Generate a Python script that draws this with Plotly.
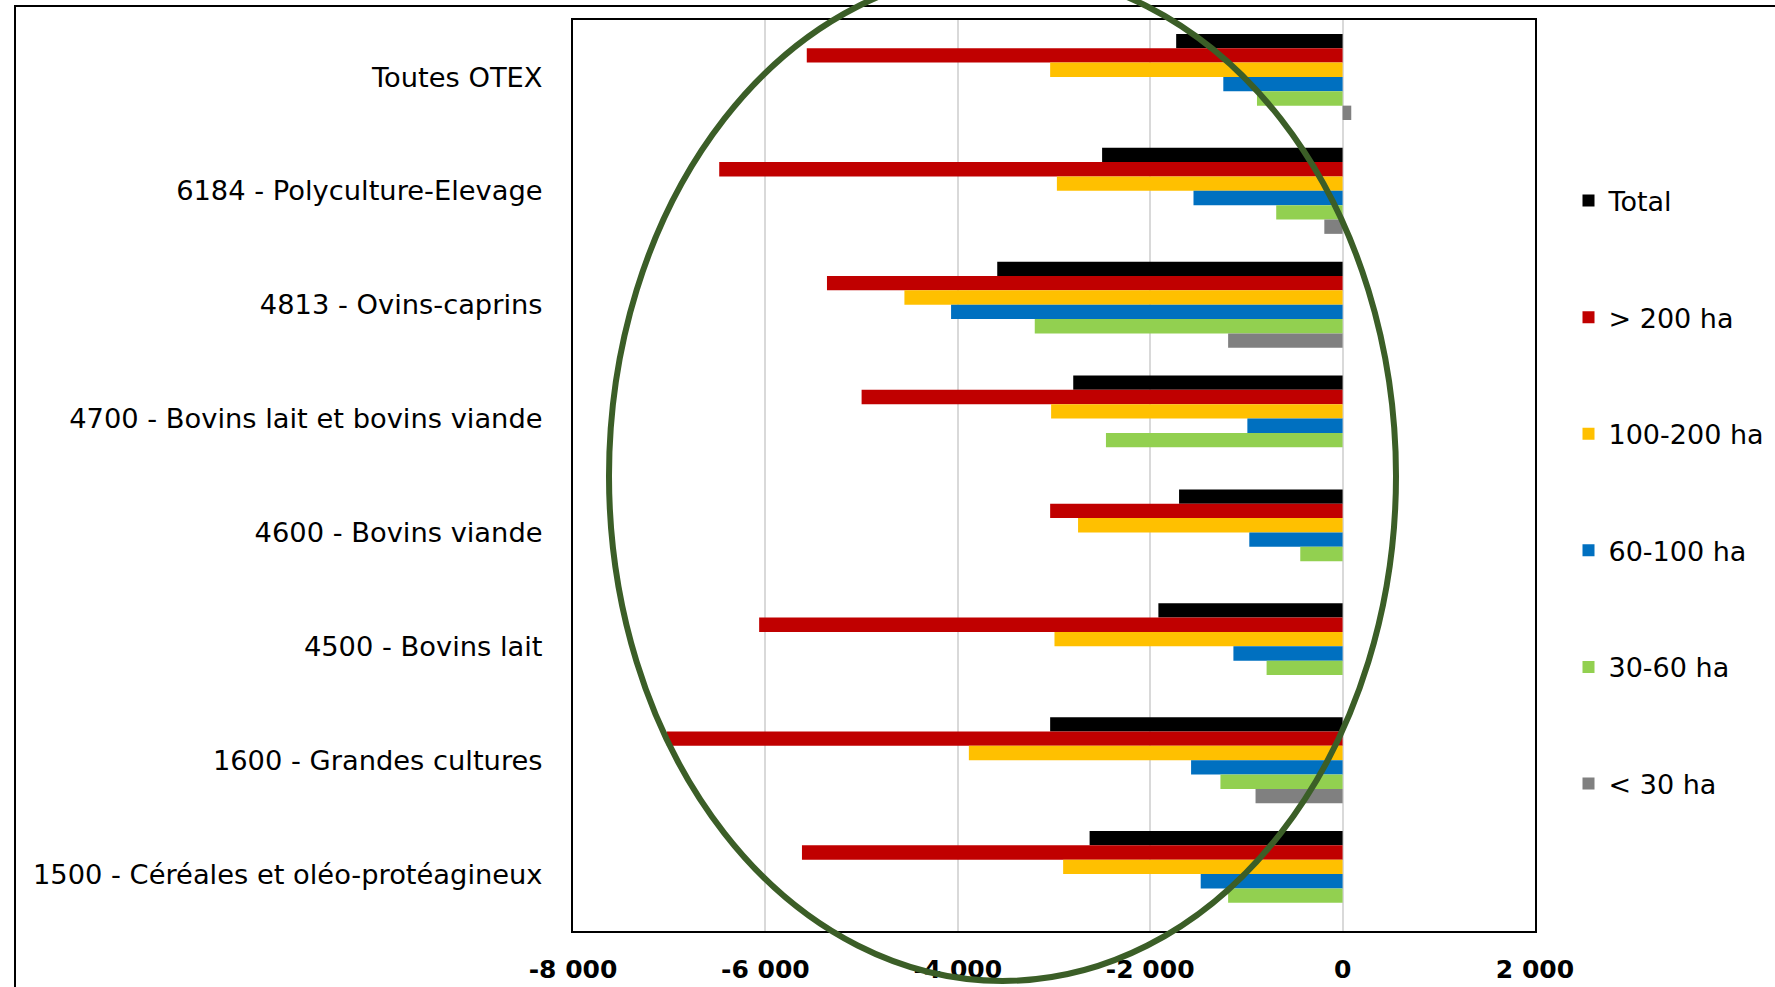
import plotly.graph_objects as go

categories = [
    "Toutes OTEX",
    "6184 - Polyculture-Elevage",
    "4813 - Ovins-caprins",
    "4700 - Bovins lait et bovins viande",
    "4600 - Bovins viande",
    "4500 - Bovins lait",
    "1600 - Grandes cultures",
    "1500 - Céréales et oléo-protéagineux",
]

series_names = ["Total", "> 200 ha", "100-200 ha", "60-100 ha", "30-60 ha", "< 30 ha"]

total      = [-1730, -2500, -3590, -2800, -1700, -1915, -3040, -2630]
sup_200    = [-5570, -6480, -5360, -5000, -3040, -6065, -7025, -5620]
ha_100_200 = [-3040, -2970, -4555, -3030, -2750, -2995, -3885, -2905]
ha_60_100  = [-1240, -1550, -4070, -990, -970, -1135, -1575, -1475]
ha_30_60   = [-890, -690, -3200, -2460, -440, -790, -1270, -1190]
inf_30     = [90, -190, -1190, None, None, None, -905, None]

series_values = [total, sup_200, ha_100_200, ha_60_100, ha_30_60, inf_30]
colors = ["#000000", "#C00000", "#FFC000", "#0070C0", "#92D050", "#808080"]

tick_vals = [-8000, -6000, -4000, -2000, 0, 2000]
tick_text = ["-8 000", "-6 000", "-4 000", "-2 000", "0", "2 000"]

FONT = "DejaVu Sans"

fig = go.Figure()
for i, (name, vals, col) in enumerate(zip(series_names, series_values, colors)):
    fig.add_trace(go.Bar(
        y=categories, x=vals, name=name, orientation="h",
        marker=dict(color=col, line=dict(width=0)),
        legendgroup=f"g{i}",
    ))

# body margin removed via post_script, so page pixels == figure pixels
OFF = 0
W, H = 1775, 987
# plot area target in page pixels: x 573..1535, y 20..931
PX0, PX1, PY0, PY1 = 573, 1535, 20, 931
L = PX0 - OFF
T = PY0 - OFF
R = W - (PX1 - OFF)
B = H - (PY1 - OFF)
pw, ph = W - L - R, H - T - B

def px_x(px):
    return (px - OFF - L) / pw

def px_y(py):
    return (H - B - (py - OFF)) / ph

fig.update_layout(
    template="none",
    width=W, height=H, autosize=False,
    margin=dict(l=L, r=R, t=T, b=B, autoexpand=False),
    paper_bgcolor="white", plot_bgcolor="white",
    barmode="group", bargap=0.244, bargroupgap=0,
    font=dict(family=FONT, color="black"),
    showlegend=True,
    legend=dict(
        x=px_x(1568.5), y=px_y(176.5), xanchor="left", yanchor="top",
        font=dict(family=FONT, size=27, color="black"),
        tracegroupgap=78.5, bgcolor="rgba(0,0,0,0)", borderwidth=0,
    ),
    xaxis=dict(
        range=[-8000, 2000], tickvals=tick_vals, ticktext=tick_text,
        automargin=False,
        showgrid=True, gridcolor="#D9D9D9", gridwidth=2,
        zeroline=True, zerolinecolor="#D9D9D9", zerolinewidth=2,
        showline=True, linecolor="black", linewidth=2, mirror=True,
        tickfont=dict(family=FONT, size=25, color="black", weight="bold"),
        ticks="", ticklabelstandoff=15,
    ),
    yaxis=dict(
        type="category", categoryorder="array", categoryarray=categories,
        autorange="reversed", automargin=False,
        showgrid=False, showline=True, linecolor="black", linewidth=2, mirror=True,
        tickfont=dict(family=FONT, size=27.3, color="black"),
        ticks="", ticklabelstandoff=23,
    ),
)

# outer chart border (only left and top visible in the picture)
fig.add_shape(type="rect", xref="paper", yref="paper",
              x0=px_x(15), x1=px_x(1800), y0=px_y(1010), y1=px_y(6),
              line=dict(color="black", width=2), fillcolor="rgba(0,0,0,0)", layer="above")

# green highlight ellipse
fig.add_shape(type="circle", xref="paper", yref="paper",
              x0=px_x(609), x1=px_x(1396), y0=px_y(981), y1=px_y(-29),
              line=dict(color="#3B5E27", width=6), fillcolor="rgba(0,0,0,0)", layer="above")

fig.write_html(
    "out.html",
    config={"displayModeBar": False},
    post_script="document.body.style.margin='0';document.body.style.overflow='hidden';",
)
